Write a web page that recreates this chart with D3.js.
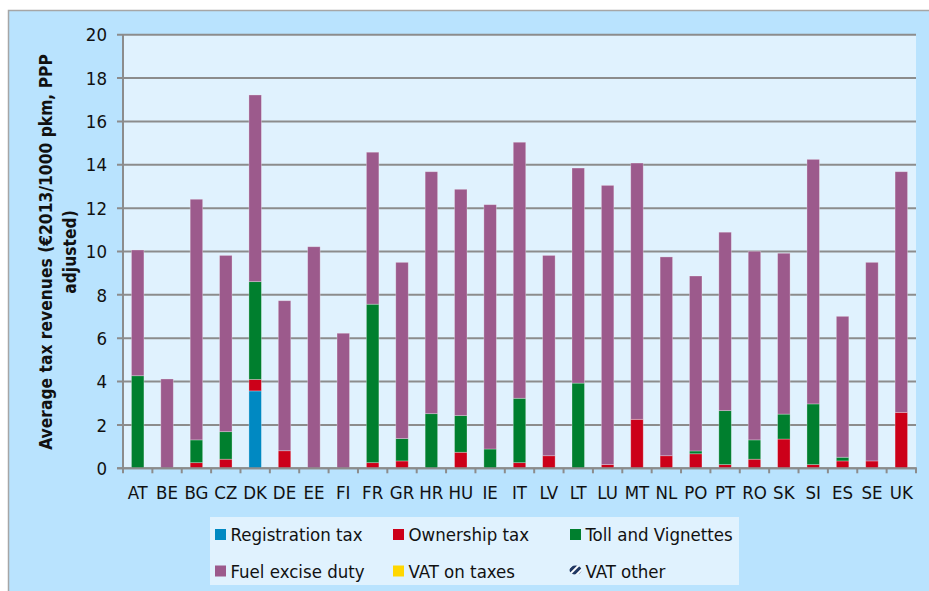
<!DOCTYPE html>
<html>
<head>
<meta charset="utf-8">
<script src="https://cdn.jsdelivr.net/npm/d3@7"></script>
<style>
  html, body { margin: 0; padding: 0; background: #ffffff; }
  svg { display: block; }
  text { font-family: "DejaVu Sans Condensed", "DejaVu Sans", sans-serif; fill: #111; }
</style>
</head>
<body>
<svg id="chart" width="929" height="591"></svg>
<script>
const categories = ["AT","BE","BG","CZ","DK","DE","EE","FI","FR","GR","HR","HU","IE","IT","LV","LT","LU","MT","NL","PO","PT","RO","SK","SI","ES","SE","UK"];
const registrationTax = [0,0,0,0,3.57,0,0,0,0,0,0,0,0,0,0,0,0,0,0,0,0,0,0,0,0,0,0];
const ownershipTax   = [0,0,0.26,0.42,0.53,0.81,0,0,0.26,0.34,0,0.74,0,0.26,0.58,0,0.17,2.26,0.58,0.67,0.17,0.42,1.35,0.17,0.34,0.34,2.58];
const tollVignettes  = [4.27,0,1.05,1.27,4.51,0,0,0,7.31,1.03,2.52,1.69,0.89,2.97,0,3.93,0,0,0,0.13,2.49,0.89,1.15,2.80,0.17,0,0];
const fuelExcise     = [5.80,4.12,11.10,8.13,8.61,6.92,10.22,6.23,7.01,8.13,11.16,10.44,11.27,11.81,9.24,9.92,12.88,11.82,9.17,8.07,8.23,8.70,7.42,11.28,6.50,9.16,11.10];
const vatOnTaxes     = [0,0,0,0,0,0,0,0,0,0,0,0,0,0,0,0,0,0,0,0,0,0,0,0,0,0,0];
const vatOther       = [0,0,0,0,0,0,0,0,0,0,0,0,0,0,0,0,0,0,0,0,0,0,0,0,0,0,0];
const yTicks = [0,2,4,6,8,10,12,14,16,18,20];
const seriesNames = ["Registration tax","Ownership tax","Toll and Vignettes","Fuel excise duty","VAT on taxes","VAT other"];
const seriesColors = ["#0089C2","#CC0019","#007F2E","#9C5A8C","#FFD700","url(#vatOtherPat)"];

const keys = ["reg","own","toll","fuel","vatT","vatO"];
const rows = categories.map((c,i) => ({
  cat: c, reg: registrationTax[i], own: ownershipTax[i], toll: tollVignettes[i],
  fuel: fuelExcise[i], vatT: vatOnTaxes[i], vatO: vatOther[i]
}));

const svg = d3.select("#chart");
const defs = svg.append("defs");
const pat = defs.append("pattern").attr("id","vatOtherPat").attr("patternUnits","userSpaceOnUse")
  .attr("width",5).attr("height",5).attr("patternTransform","rotate(-45)");
pat.append("rect").attr("width",5).attr("height",5).attr("fill","#ffffff");
pat.append("rect").attr("width",5).attr("height",3).attr("fill","#1F3864");

// outer panel
svg.append("rect").attr("x",8.5).attr("y",10.5).attr("width",940).attr("height",600)
  .attr("fill","#B9E3FE").attr("stroke","#A6A6A6").attr("stroke-width",1.5);

const pLeft = 123, pRight = 916, pTop = 34.7, pBottom = 468.3;
const x = d3.scaleBand().domain(categories).range([pLeft,pRight]).paddingInner(0.575).paddingOuter(0.2875);
const y = d3.scaleLinear().domain([0,20]).range([pBottom,pTop]);

// plot area
svg.append("rect").attr("x",pLeft).attr("y",pTop).attr("width",pRight-pLeft).attr("height",pBottom-pTop)
  .attr("fill","#E0F2FE");

// gridlines
svg.append("g").selectAll("line").data(yTicks).join("line")
  .attr("x1",pLeft-6).attr("x2",pRight).attr("y1",d=>y(d)).attr("y2",d=>y(d))
  .attr("stroke","#8C8C8C").attr("stroke-width",2);

// y tick labels
svg.append("g").selectAll("text").data(yTicks).join("text")
  .attr("x",107).attr("y",d=>y(d)).attr("dy","0.36em").attr("text-anchor","end")
  .attr("font-size",18.5).text(d=>d);

// stacked bars
const stack = d3.stack().keys(keys);
const series = stack(rows);
svg.append("g").selectAll("g").data(series).join("g")
  .attr("fill",(d,i)=>seriesColors[i])
  .selectAll("rect").data(d=>d.filter(p=>p[1]-p[0]>0)).join("rect")
  .attr("x",d=>x(d.data.cat)).attr("width",x.bandwidth())
  .attr("y",d=>y(d[1])).attr("height",d=>y(d[0])-y(d[1]))
  .attr("stroke","rgba(255,255,255,0.35)").attr("stroke-width",0.8);

// axes lines
svg.append("line").attr("x1",pLeft).attr("x2",pLeft).attr("y1",pTop).attr("y2",pBottom+1)
  .attr("stroke","#8C8C8C").attr("stroke-width",2);
svg.append("line").attr("x1",pLeft-6).attr("x2",pRight+1).attr("y1",pBottom).attr("y2",pBottom)
  .attr("stroke","#8C8C8C").attr("stroke-width",2);
// x ticks at band boundaries
const bounds = categories.map((c,i)=>pLeft + i*x.step()).concat([pRight]);
svg.append("g").selectAll("line").data(bounds).join("line")
  .attr("x1",d=>d).attr("x2",d=>d).attr("y1",pBottom).attr("y2",pBottom+5)
  .attr("stroke","#8C8C8C").attr("stroke-width",2);

// x labels
svg.append("g").selectAll("text").data(categories).join("text")
  .attr("x",d=>x(d)+x.bandwidth()/2).attr("y",492).attr("dy","0.36em")
  .attr("text-anchor","middle").attr("font-size",18.5).text(d=>d);

// y title
const yt = svg.append("text").attr("transform","translate(46,252) rotate(-90)")
  .attr("text-anchor","middle").attr("font-size",17.3).attr("font-weight","bold");
yt.append("tspan").attr("x",0).attr("dy","0.36em").text("Average tax revenues (€2013/1000 pkm, PPP");
yt.append("tspan").attr("x",0).attr("dy","1.4em").text("adjusted)");

// legend
const lg = svg.append("g");
lg.append("rect").attr("x",210).attr("y",517).attr("width",529).attr("height",68).attr("fill","#E0F2FE");
const colX = [215,393,570], rowY = [534.5,571];
seriesNames.forEach((name,i)=>{
  const cx = colX[i%3], cy = rowY[Math.floor(i/3)];
  if (i===5) {
    lg.append("ellipse").attr("cx",cx+5.5).attr("cy",cy-1).attr("rx",6).attr("ry",4.5).attr("fill",seriesColors[i]);
  } else {
    lg.append("rect").attr("x",cx).attr("y",cy-5.5).attr("width",11).attr("height",11).attr("fill",seriesColors[i]);
  }
  lg.append("text").attr("x",cx+15.5).attr("y",cy).attr("dy","0.36em").attr("font-size",18.5).text(name);
});
</script>
</body>
</html>
